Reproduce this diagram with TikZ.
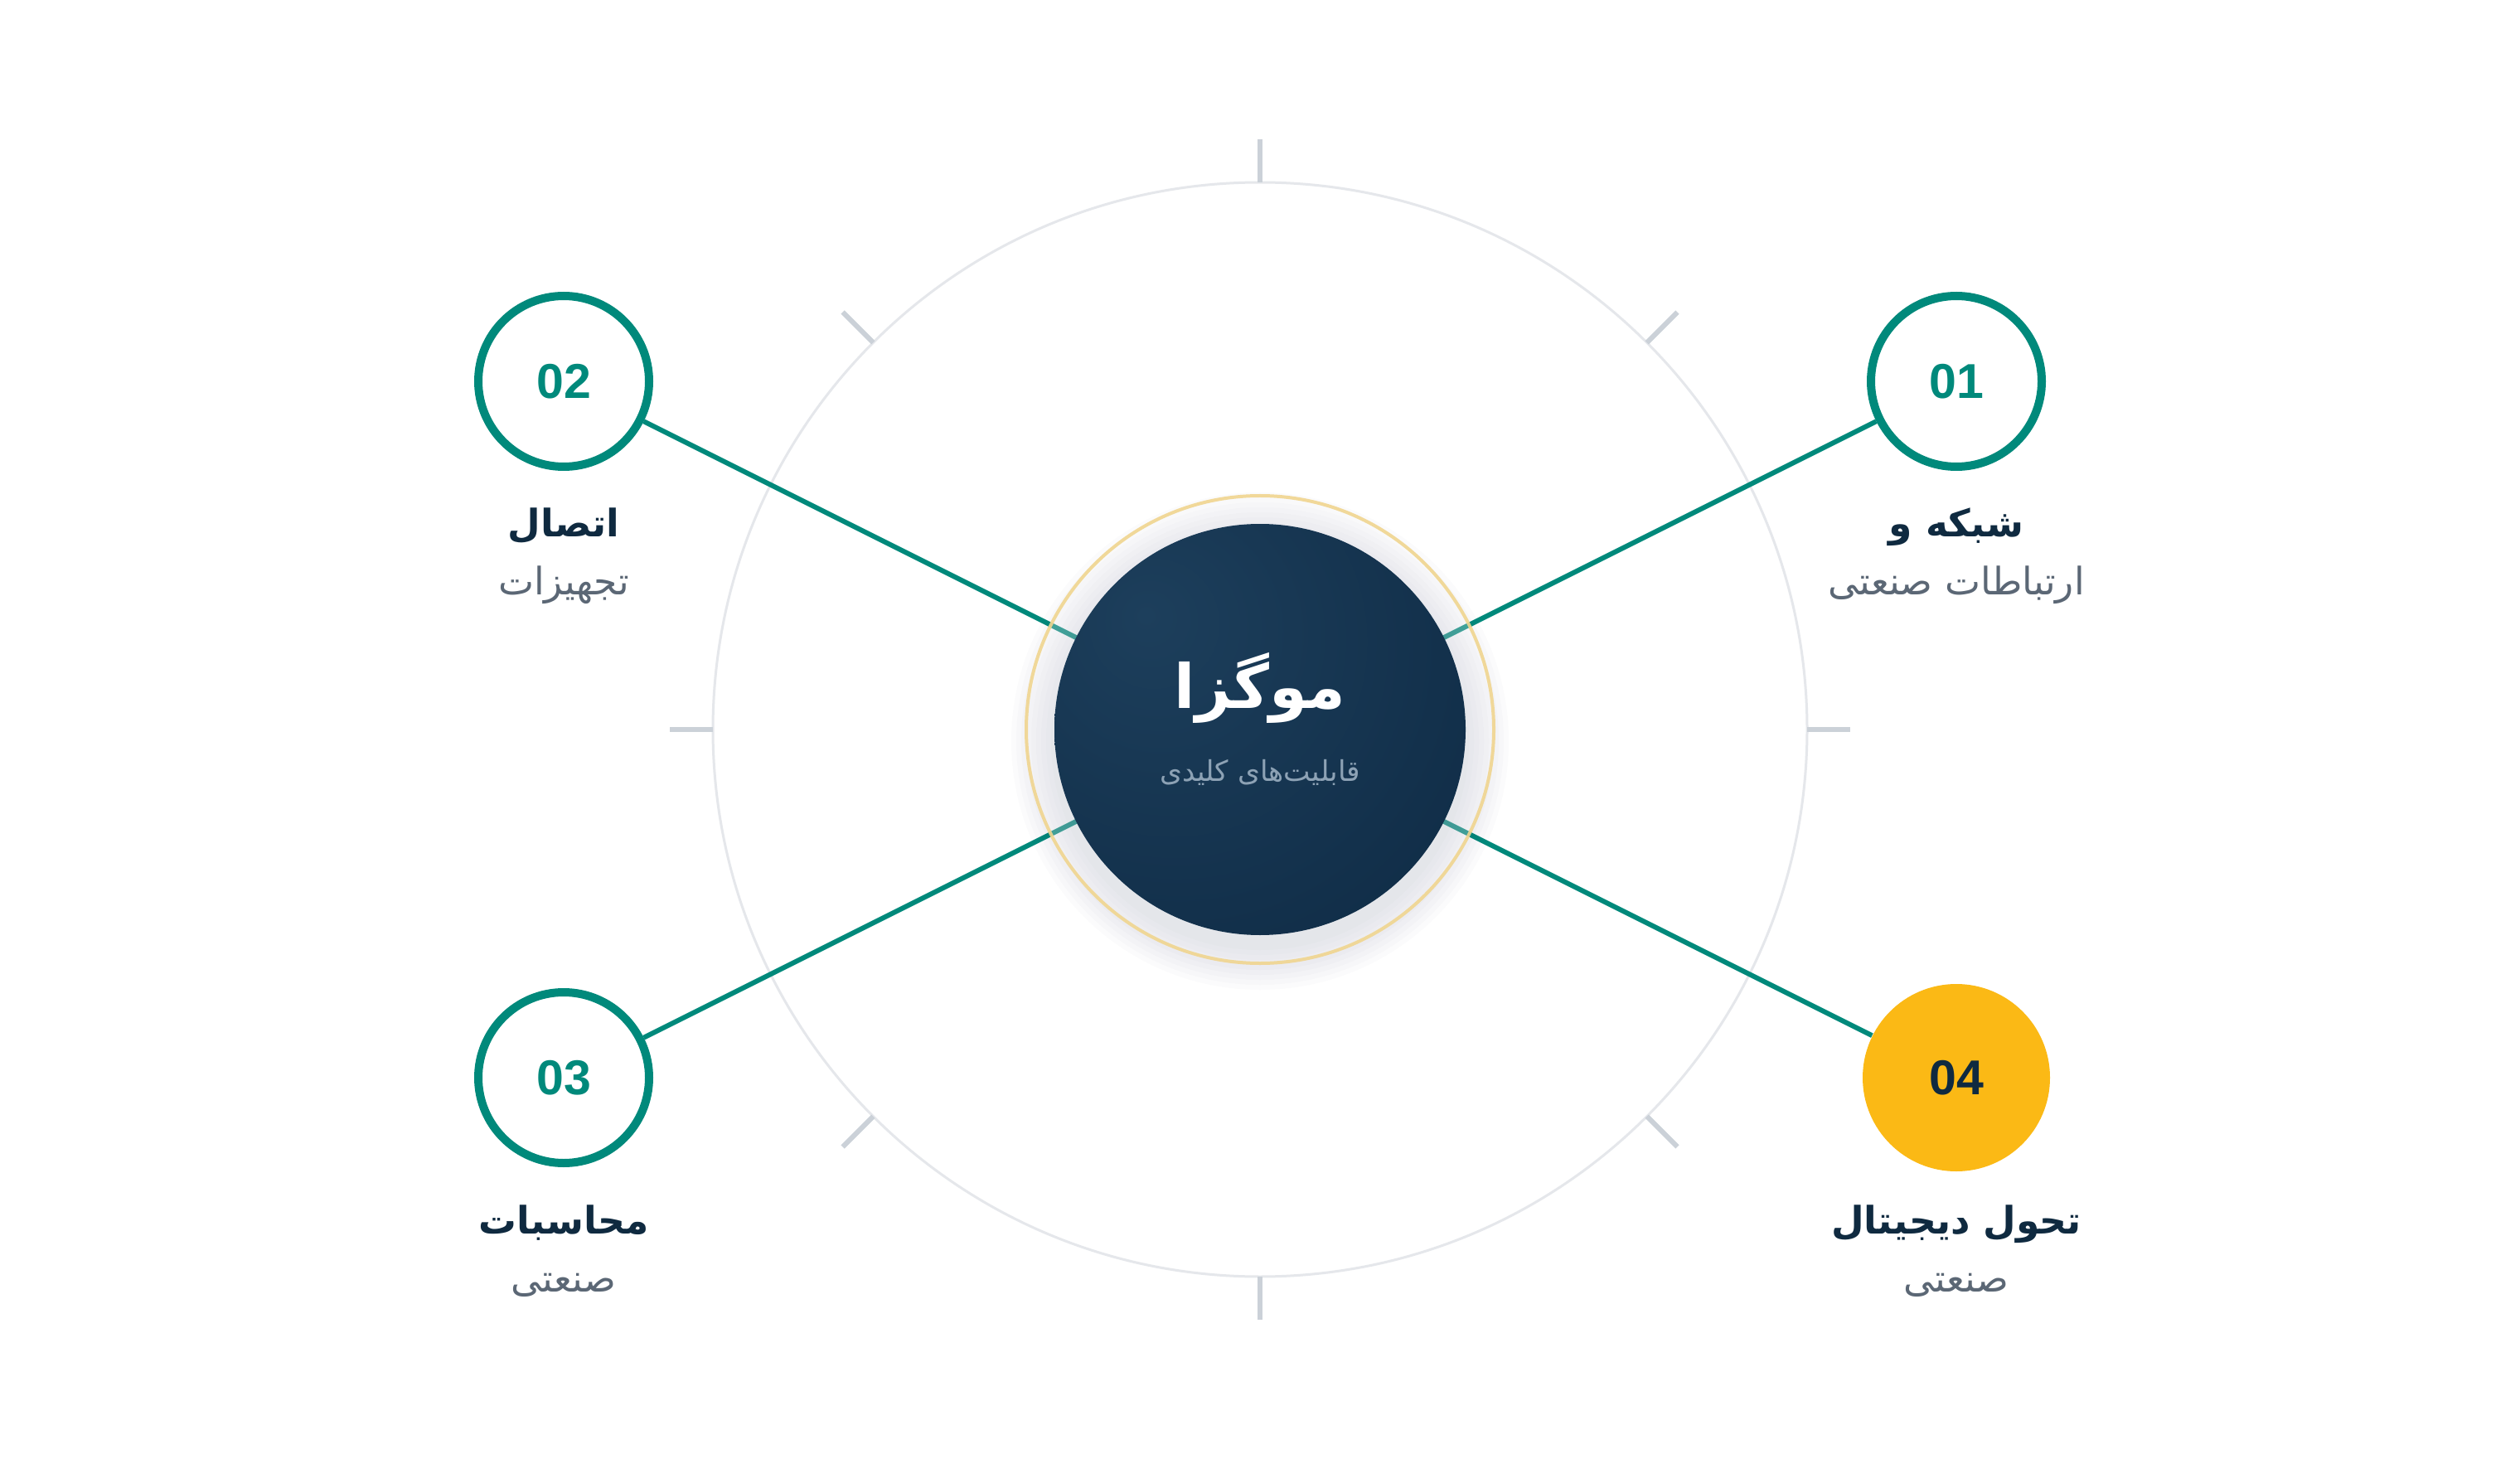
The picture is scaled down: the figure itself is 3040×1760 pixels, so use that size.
\documentclass[tikz,border=0pt]{standalone}
\usepackage{fontspec}
\TeXXeTstate=1
\newfontfamily\arfont[Script=Arabic]{DejaVu Sans}
\newfontfamily\numfont{Liberation Sans}
\definecolor{teal}{HTML}{00897B}
\definecolor{navy}{HTML}{0F2A40}
\definecolor{subgray}{HTML}{5B6775}
\definecolor{orbitgray}{HTML}{E5E7EB}
\definecolor{tickgray}{HTML}{CBD1D8}
\definecolor{goldring}{HTML}{F0D58F}
\definecolor{amber}{HTML}{FBB915}
\definecolor{hubin}{HTML}{1D3F5C}
\definecolor{hubout}{HTML}{0E2A44}
\definecolor{hubsub}{HTML}{8DA2B5}
\pgfdeclareradialshading{hubshade}{\pgfpoint{-14bp}{14bp}}{color(0bp)=(hubin); color(45bp)=(hubout!95!hubin); color(70bp)=(hubout); color(100bp)=(hubout)}
\tikzset{
  orbit/.style={circle, draw=orbitgray, line width=0.3mm, minimum size=132mm, inner sep=0pt},
  tickmark/.style={draw=tickgray, line width=0.6mm},
  spoke/.style={draw=teal, line width=0.6mm},
  hub/.style={circle, minimum size=49.6mm, inner sep=0pt, shading=hubshade},
  sat/.style={circle, draw=teal, fill=white, line width=1mm, minimum size=20.6mm, inner sep=0pt,
    text=teal, font=\numfont\bfseries\fontsize{16.8}{20}\selectfont},
  satactive/.style={circle, fill=amber, minimum size=22.6mm, inner sep=0pt,
    text=navy, font=\numfont\bfseries\fontsize{16.8}{20}\selectfont},
  ttl/.style={anchor=base, text=navy, font=\arfont\bfseries\fontsize{13}{16}\selectfont, inner sep=0pt},
  sub/.style={anchor=base, text=subgray, font=\arfont\fontsize{13}{16}\selectfont, inner sep=0pt},
}
\begin{document}
\begin{tikzpicture}[x=0.1mm, y=-0.1mm]
\useasboundingbox (0,0) rectangle (3040,1760);
\fill[white] (0,0) rectangle (3040,1760);
% orbit and ticks
\node[orbit] (orbit) at (1520,880) {};
\foreach \a in {0,45,...,315} {
  \draw[tickmark] (orbit.center) ++(\a:660) -- ++(\a:52);
}
\coordinate (c) at (1520,880);
% satellites
\node[sat] (s1) at (2360,460) {01};
\node[sat] (s2) at (680,460) {02};
\node[sat] (s3) at (680,1300) {03};
\node[satactive] (s4) at (2360,1300) {04};
% spokes
\draw[spoke] (c) -- (s1);
\draw[spoke] (c) -- (s2);
\draw[spoke] (c) -- (s3);
\draw[spoke] (c) -- (s4);
% shadow and ring
\foreach \r in {252,258,...,300} {
  \fill[navy, opacity=0.016] (1520,894) circle[radius=\r];
}
\fill[white, opacity=0.25] (1520,880) circle[radius=282];
\draw[goldring, line width=0.4mm, opacity=0.9] (1520,880) circle[radius=282];
% hub
\node[hub] (hub) at (1520,880) {};
\node[text=white, font=\arfont\bfseries\fontsize{21}{26}\selectfont, anchor=base, inner sep=0pt] (hubtitle) at (1520,854) {\beginR موگزا\endR};
\node[text=hubsub, font=\arfont\fontsize{9.8}{12}\selectfont, anchor=base, inner sep=0pt] (hubsubtitle) at (1520,942) {\beginR قابلیت‌های کلیدی\endR};
% labels
\node[ttl] (t1) at (2360,648) {\beginR شبکه و\endR};
\node[sub] (u1) at (2360,718) {\beginR ارتباطات صنعتی\endR};
\node[ttl] (t2) at (680,648) {\beginR اتصال\endR};
\node[sub] (u2) at (680,718) {\beginR تجهیزات\endR};
\node[ttl] (t3) at (680,1488) {\beginR محاسبات\endR};
\node[sub] (u3) at (680,1558) {\beginR صنعتی\endR};
\node[ttl] (t4) at (2360,1488) {\beginR تحول دیجیتال\endR};
\node[sub] (u4) at (2360,1558) {\beginR صنعتی\endR};
\end{tikzpicture}
\end{document}
